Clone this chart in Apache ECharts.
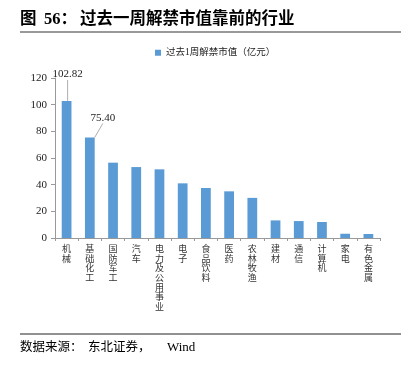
<!DOCTYPE html>
<html><head><meta charset="utf-8">
<script src="https://cdn.jsdelivr.net/npm/echarts@6/dist/echarts.min.js"></script>
<style>html,body{margin:0;padding:0;background:#fff}#c{width:415px;height:369px}</style>
</head><body><div id="c"></div>
<script>
const categories = ['机械','基础化工','国防军工','汽车','电力及公用事业','电子','食品饮料','医药','农林牧渔','建材','通信','计算机','家电','有色金属'];
const values = [102.82, 75.40, 56.5, 53.2, 51.5, 41.0, 37.5, 35.0, 30.1, 13.2, 12.7, 12.0, 3.2, 3.0];
const labeled = [0, 1];
const yTicks = [0, 20, 40, 60, 80, 100, 120];
const seriesName = '过去1周解禁市值（亿元）';

const serif = '"Liberation Serif","DejaVu Serif","Noto Sans CJK SC",serif';
const tfont = 'bold 16.5px "Liberation Serif","Noto Sans CJK SC"';
const ffont = '12.5px "Liberation Serif","Noto Sans CJK SC"';
const chart = echarts.init(document.getElementById('c'));
chart.setOption({
  animation: false,
  graphic: [
    {type:'text', x:20, y:20, style:{text:'图', font:tfont, fill:'#000', verticalAlign:'middle'}},
    {type:'text', x:44, y:20, style:{text:'56：', font:tfont, fill:'#000', verticalAlign:'middle'}},
    {type:'text', x:80, y:20, style:{text:'过去一周解禁市值靠前的行业', font:tfont, fill:'#000', verticalAlign:'middle'}},
    {type:'line', shape:{x1:20,y1:32,x2:401,y2:32}, style:{stroke:'#777',lineWidth:1.5}},
    {type:'line', shape:{x1:20,y1:334,x2:401,y2:334}, style:{stroke:'#222',lineWidth:1}},
    {type:'text', x:20, y:348, style:{text:'数据来源：', font:ffont, fill:'#000', verticalAlign:'middle'}},
    {type:'text', x:88, y:348, style:{text:'东北证券，', font:ffont, fill:'#000', verticalAlign:'middle'}},
    {type:'text', x:167, y:348, style:{text:'Wind', font:'13px "Liberation Serif"', fill:'#000', verticalAlign:'middle'}}
  ],
  legend: {
    top: 43, left: 150, itemWidth: 6, itemHeight: 6, itemGap: 4,
    icon: 'rect',
    textStyle: {fontSize: 9.5, color: '#222', fontFamily: serif},
    data: [seriesName]
  },
  grid: {left: 55, right: 35, top: 78, bottom: 131, containLabel: false},
  xAxis: {
    type: 'category', data: categories,
    axisLine: {lineStyle: {color: '#999'}},
    axisTick: {show: true, alignWithLabel: false, length: 3, lineStyle: {color: '#999'}},
    axisLabel: {
      interval: 0, fontSize: 9, lineHeight: 9.6, color: '#333', margin: 6,
      fontFamily: '"Noto Sans CJK SC"',
      formatter: v => v.split('').join('\n')
    }
  },
  yAxis: {
    type: 'value', min: 0, max: 120, interval: 20,
    splitLine: {show: false},
    axisLine: {show: true, lineStyle: {color: '#999'}},
    axisTick: {show: true, length: 4, lineStyle: {color: '#999'}},
    axisLabel: {fontSize: 11, color: '#222', fontFamily: serif, margin: 8,
      formatter: v => yTicks.includes(v) ? String(v) : ''}
  },
  series: [{
    name: seriesName, type: 'bar', barWidth: '42%',
    itemStyle: {color: '#5B9BD5'},
    data: values.map((v, i) => labeled.includes(i) ? {
      value: v,
      label: {show: true, position: 'top', formatter: v.toFixed(2), fontSize: 11, color: '#222', fontFamily: serif},
      labelLine: {show: true, lineStyle: {color: '#999', width: 0.8}}
    } : v),
    labelLayout: p => p.dataIndex === 0 ? {dx: 1, dy: -16} : (p.dataIndex === 1 ? {dx: 13, dy: -9} : {})
  }]
});
</script></body></html>
